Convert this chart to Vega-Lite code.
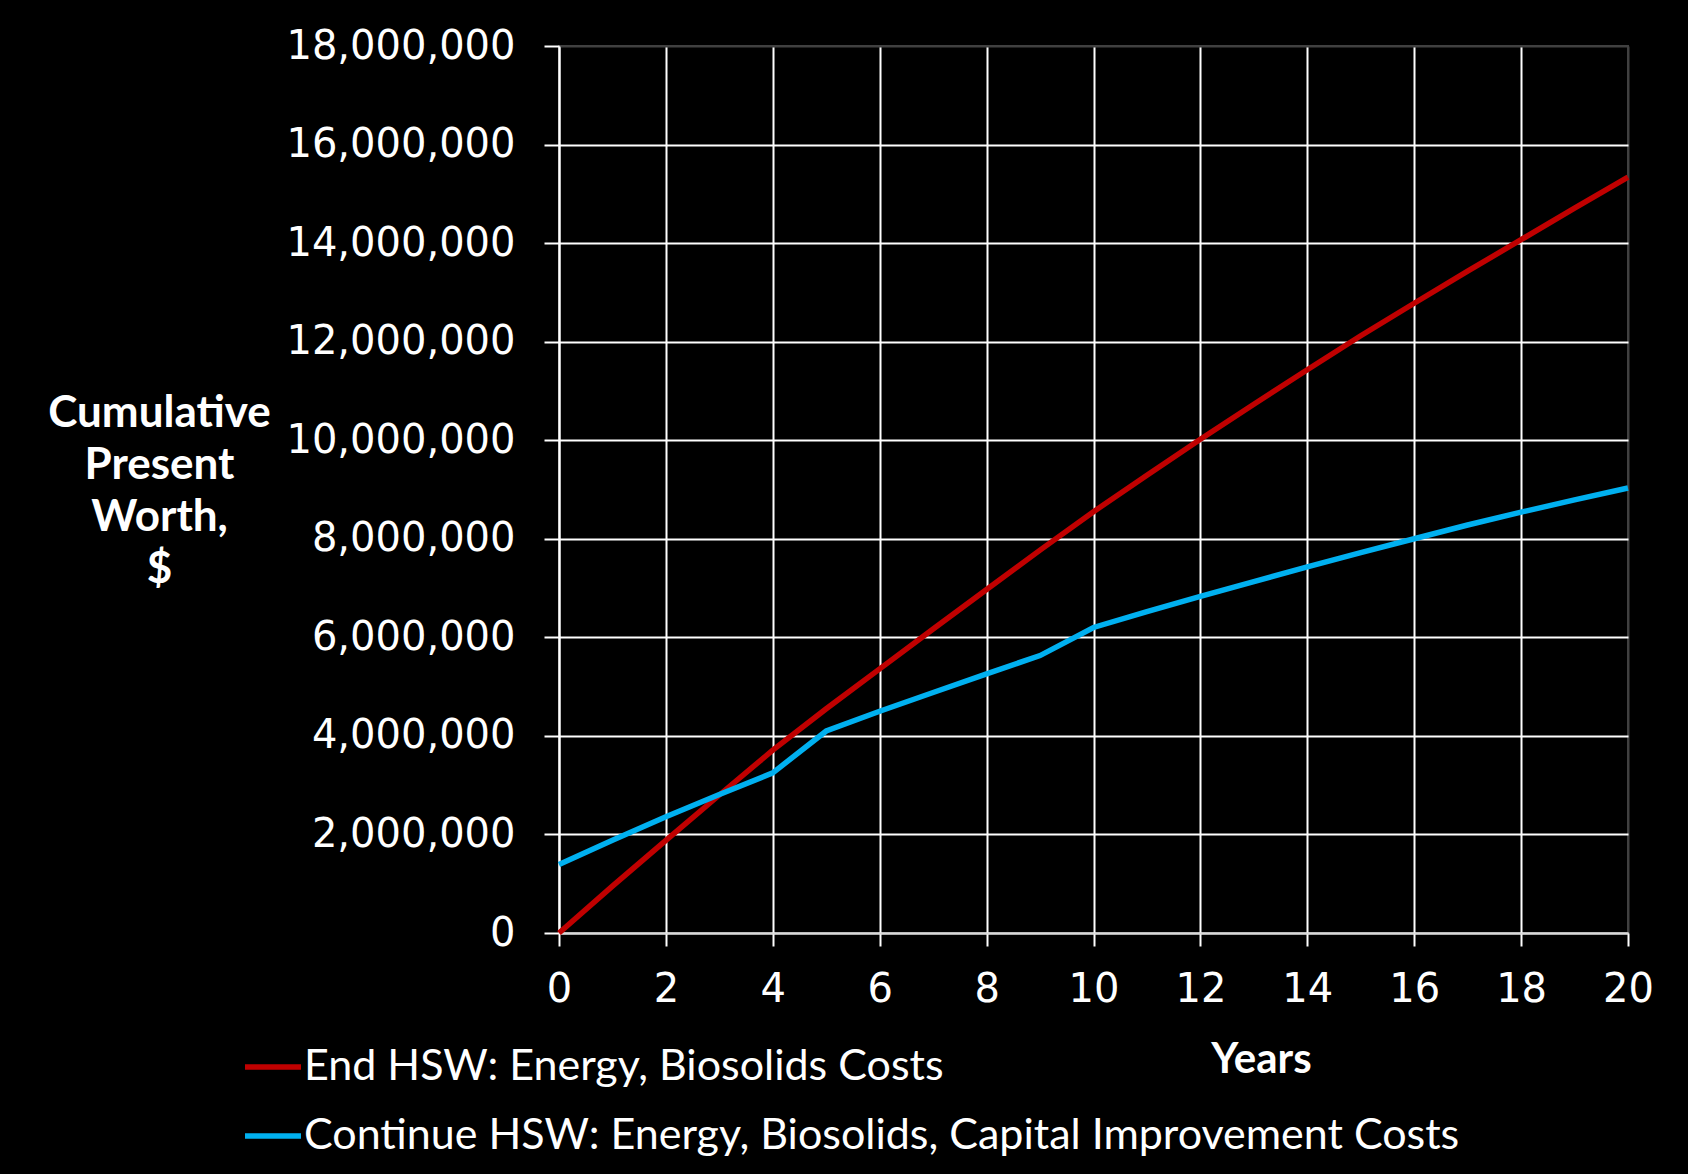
{
  "$schema": "https://vega.github.io/schema/vega-lite/v6.json",
  "width": 1069,
  "height": 887,
  "autosize": {"type": "none"},
  "padding": {"left": 559, "top": 46, "right": 60, "bottom": 241},
  "background": "#000000",
  "config": {"view": {"stroke": "#404040", "strokeWidth": 2, "fill": "#000000"}},
  "data": {
    "values": [
      {"year": 0, "series": "End HSW: Energy, Biosolids Costs", "value": 0},
      {"year": 1, "series": "End HSW: Energy, Biosolids Costs", "value": 950000},
      {"year": 2, "series": "End HSW: Energy, Biosolids Costs", "value": 1880000},
      {"year": 3, "series": "End HSW: Energy, Biosolids Costs", "value": 2800000},
      {"year": 4, "series": "End HSW: Energy, Biosolids Costs", "value": 3710000},
      {"year": 5, "series": "End HSW: Energy, Biosolids Costs", "value": 4550000},
      {"year": 6, "series": "End HSW: Energy, Biosolids Costs", "value": 5360000},
      {"year": 7, "series": "End HSW: Energy, Biosolids Costs", "value": 6170000},
      {"year": 8, "series": "End HSW: Energy, Biosolids Costs", "value": 6970000},
      {"year": 9, "series": "End HSW: Energy, Biosolids Costs", "value": 7770000},
      {"year": 10, "series": "End HSW: Energy, Biosolids Costs", "value": 8550000},
      {"year": 11, "series": "End HSW: Energy, Biosolids Costs", "value": 9290000},
      {"year": 12, "series": "End HSW: Energy, Biosolids Costs", "value": 10020000},
      {"year": 13, "series": "End HSW: Energy, Biosolids Costs", "value": 10730000},
      {"year": 14, "series": "End HSW: Energy, Biosolids Costs", "value": 11430000},
      {"year": 15, "series": "End HSW: Energy, Biosolids Costs", "value": 12120000},
      {"year": 16, "series": "End HSW: Energy, Biosolids Costs", "value": 12780000},
      {"year": 17, "series": "End HSW: Energy, Biosolids Costs", "value": 13430000},
      {"year": 18, "series": "End HSW: Energy, Biosolids Costs", "value": 14070000},
      {"year": 19, "series": "End HSW: Energy, Biosolids Costs", "value": 14710000},
      {"year": 20, "series": "End HSW: Energy, Biosolids Costs", "value": 15340000},
      {"year": 0, "series": "Continue HSW: Energy, Biosolids, Capital Improvement Costs", "value": 1390000},
      {"year": 1, "series": "Continue HSW: Energy, Biosolids, Capital Improvement Costs", "value": 1880000},
      {"year": 2, "series": "Continue HSW: Energy, Biosolids, Capital Improvement Costs", "value": 2360000},
      {"year": 3, "series": "Continue HSW: Energy, Biosolids, Capital Improvement Costs", "value": 2810000},
      {"year": 4, "series": "Continue HSW: Energy, Biosolids, Capital Improvement Costs", "value": 3250000},
      {"year": 5, "series": "Continue HSW: Energy, Biosolids, Capital Improvement Costs", "value": 4100000},
      {"year": 6, "series": "Continue HSW: Energy, Biosolids, Capital Improvement Costs", "value": 4500000},
      {"year": 7, "series": "Continue HSW: Energy, Biosolids, Capital Improvement Costs", "value": 4880000},
      {"year": 8, "series": "Continue HSW: Energy, Biosolids, Capital Improvement Costs", "value": 5260000},
      {"year": 9, "series": "Continue HSW: Energy, Biosolids, Capital Improvement Costs", "value": 5630000},
      {"year": 10, "series": "Continue HSW: Energy, Biosolids, Capital Improvement Costs", "value": 6200000},
      {"year": 11, "series": "Continue HSW: Energy, Biosolids, Capital Improvement Costs", "value": 6520000},
      {"year": 12, "series": "Continue HSW: Energy, Biosolids, Capital Improvement Costs", "value": 6830000},
      {"year": 13, "series": "Continue HSW: Energy, Biosolids, Capital Improvement Costs", "value": 7130000},
      {"year": 14, "series": "Continue HSW: Energy, Biosolids, Capital Improvement Costs", "value": 7430000},
      {"year": 15, "series": "Continue HSW: Energy, Biosolids, Capital Improvement Costs", "value": 7720000},
      {"year": 16, "series": "Continue HSW: Energy, Biosolids, Capital Improvement Costs", "value": 8000000},
      {"year": 17, "series": "Continue HSW: Energy, Biosolids, Capital Improvement Costs", "value": 8280000},
      {"year": 18, "series": "Continue HSW: Energy, Biosolids, Capital Improvement Costs", "value": 8540000},
      {"year": 19, "series": "Continue HSW: Energy, Biosolids, Capital Improvement Costs", "value": 8790000},
      {"year": 20, "series": "Continue HSW: Energy, Biosolids, Capital Improvement Costs", "value": 9030000}
    ]
  },
  "mark": {"type": "line", "strokeWidth": 5.5},
  "encoding": {
    "x": {
      "field": "year",
      "type": "quantitative",
      "scale": {"domain": [0, 20], "nice": false, "zero": false},
      "axis": {
        "values": [0, 2, 4, 6, 8, 10, 12, 14, 16, 18, 20],
        "format": "d",
        "labelFont": "DejaVu Sans",
        "labelFontSize": 40,
        "labelColor": "#ffffff",
        "labelPadding": 23,
        "labelFlush": false,
        "labelOverlap": false,
        "tickColor": "#ffffff",
        "tickSize": 13,
        "tickWidth": 2,
        "domainColor": "#d9d9d9",
        "domainWidth": 2,
        "grid": true,
        "gridColor": {"condition": {"test": "datum.value === 20", "value": "#404040"}, "value": "#ffffff"},
        "gridWidth": 2,
        "title": "Years",
        "titleFont": "Lato",
        "titleFontWeight": "bold",
        "titleFontSize": 42,
        "titleColor": "#ffffff",
        "titleAlign": "center",
        "titleBaseline": "alphabetic",
        "titleX": 702,
        "titleY": 139
      }
    },
    "y": {
      "field": "value",
      "type": "quantitative",
      "scale": {"domain": [0, 18000000], "nice": false},
      "axis": {
        "values": [0, 2000000, 4000000, 6000000, 8000000, 10000000, 12000000, 14000000, 16000000, 18000000],
        "format": ",d",
        "labelFont": "DejaVu Sans",
        "labelFontSize": 40,
        "labelColor": "#ffffff",
        "labelPadding": 29,
        "labelLimit": 500,
        "labelFlush": false,
        "labelOverlap": false,
        "tickColor": "#ffffff",
        "tickSize": 15,
        "tickWidth": 2,
        "domainColor": "#ffffff",
        "domainWidth": 2,
        "grid": true,
        "gridColor": {"condition": {"test": "datum.value === 18000000", "value": "#404040"}, "value": "#ffffff"},
        "gridWidth": 2,
        "title": ["Cumulative", "Present", "Worth,", "$"],
        "titleFont": "Lato",
        "titleFontWeight": "bold",
        "titleFontSize": 44,
        "titleColor": "#ffffff",
        "titleAngle": 0,
        "titleAlign": "center",
        "titleBaseline": "alphabetic",
        "titleLineHeight": 52,
        "titleX": -400,
        "titleY": 380
      }
    },
    "color": {
      "field": "series",
      "type": "nominal",
      "scale": {
        "domain": ["End HSW: Energy, Biosolids Costs", "Continue HSW: Energy, Biosolids, Capital Improvement Costs"],
        "range": ["#C00000", "#00B0F0"]
      },
      "legend": {
        "orient": "none",
        "legendX": -317,
        "legendY": 990,
        "direction": "vertical",
        "title": null,
        "padding": 0,
        "symbolType": "stroke",
        "symbolSize": 3136,
        "symbolStrokeWidth": 5.5,
        "labelFont": "Lato",
        "labelFontSize": 43,
        "labelColor": "#ffffff",
        "labelOffset": 0,
        "labelLimit": 2000,
        "rowPadding": 16
      }
    }
  }
}
